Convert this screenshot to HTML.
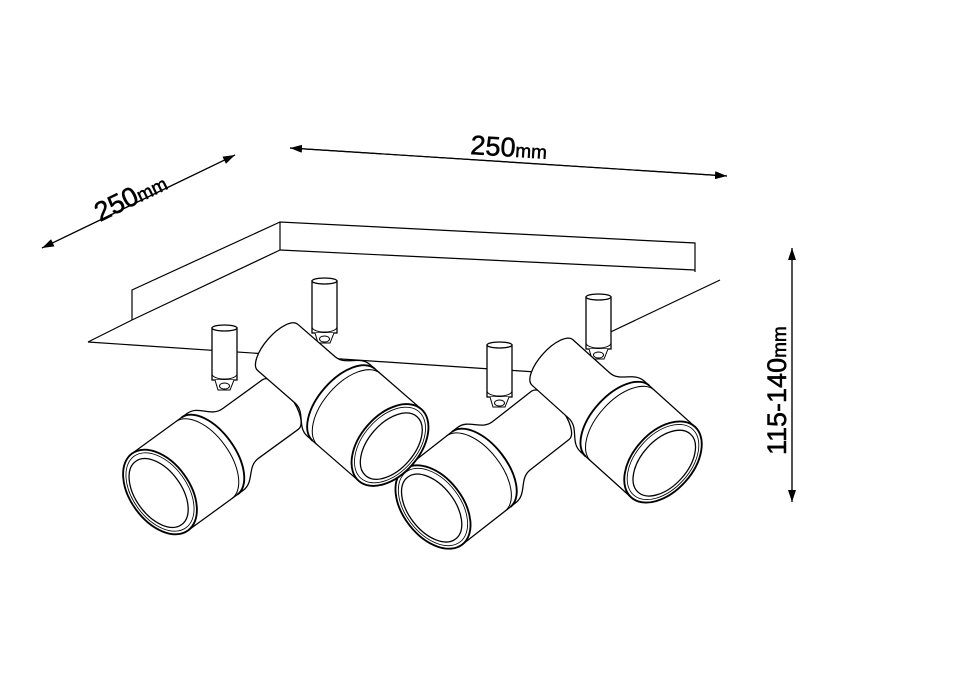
<!DOCTYPE html>
<html><head><meta charset="utf-8"><style>
html,body{margin:0;padding:0;background:#fff;width:960px;height:678px;overflow:hidden}
svg{display:block}
text{font-family:"Liberation Sans",sans-serif;fill:#000}
</style></head><body>
<svg width="960" height="678" viewBox="0 0 960 678" xmlns="http://www.w3.org/2000/svg">
<defs>
<marker id="ar" viewBox="0 0 12 8" refX="12" refY="4" markerWidth="12" markerHeight="8" orient="auto" markerUnits="userSpaceOnUse">
<path d="M0,0 L12,4 L0,8 Z" fill="#000"/></marker>
<g id="spot">
<path d="M0,-56 L80,-56 C97,-56 100,-36 117,-36 L175,-36 A15,36 0 0 1 175,36 L117,36 C100,36 97,56 80,56 L0,56 Z" fill="#fff" stroke="#000" stroke-width="1.5"/>
<path d="M64,-56 A30,56 0 0 1 64,56" fill="none" stroke="#000" stroke-width="1.2"/>
<path d="M72,-56 A30,56 0 0 1 72,56" fill="none" stroke="#000" stroke-width="2.2"/>
<ellipse cx="0" cy="0" rx="35" ry="56" fill="#fff" stroke="#000" stroke-width="2.2"/>
<ellipse cx="0" cy="0" rx="32" ry="52" fill="none" stroke="#000" stroke-width="1"/>
<ellipse cx="-2" cy="0" rx="27" ry="46" fill="none" stroke="#000" stroke-width="1.5"/>
</g>
<g id="stem">
<rect x="0" y="0" width="25" height="52" fill="#fff" stroke="#000" stroke-width="1.3"/>
<ellipse cx="12.5" cy="0" rx="12.5" ry="3" fill="#fff" stroke="#000" stroke-width="1.3"/>
<path d="M0,46 A12.5,5 0 0 0 25,46" fill="none" stroke="#000"/>
<path d="M3,52 L6,62 L18,62 L22,52" fill="#fff" stroke="#000"/>
<ellipse cx="12.5" cy="58" rx="5" ry="3" fill="#fff" stroke="#000"/>
</g>
</defs>

<g stroke="#000" stroke-width="1.2">
<line x1="290" y1="148" x2="727" y2="176" marker-end="url(#ar)" />
<line x1="727" y1="176" x2="290" y2="148" marker-end="url(#ar)" />
<line x1="42" y1="248" x2="235" y2="155" marker-end="url(#ar)" />
<line x1="235" y1="155" x2="42" y2="248" marker-end="url(#ar)" />
<line x1="792" y1="248" x2="792" y2="502" marker-end="url(#ar)" />
<line x1="792" y1="502" x2="792" y2="248" marker-end="url(#ar)" />
</g>
<text transform="translate(470,154) rotate(3.6)" font-size="27" stroke="#000" stroke-width="0.5">250<tspan font-size="19">mm</tspan></text>
<text transform="translate(100,222) rotate(-26)" font-size="27" stroke="#000" stroke-width="0.5">250<tspan font-size="19">mm</tspan></text>
<text transform="translate(786,455) rotate(-90)" font-size="27" stroke="#000" stroke-width="0.5">115-140<tspan font-size="19">mm</tspan></text>

<g fill="none" stroke="#000" stroke-width="1.2">
<path d="M280,250 L280,222 L695,243 L695,272"/>
<path d="M280,250 L695,270"/>
<path d="M132,320 L132,290 L280,222"/>
<path d="M132,320 L280,250"/>
<path d="M88,342 L132,320"/>
<path d="M88,342 L610,377"/>
<path d="M720,280 L600,337"/>
</g>

<use href="#stem" x="212" y="328"/>
<use href="#stem" x="312" y="281"/>
<use href="#stem" x="487" y="345"/>
<use href="#stem" x="586" y="297"/>

<use href="#spot" transform="translate(160,492) rotate(-36) scale(0.85)"/>
<use href="#spot" transform="translate(433,507) rotate(-38) scale(0.85)"/>
<use href="#spot" transform="translate(390,445) rotate(-139) scale(0.85)"/>
<use href="#spot" transform="translate(663,462) rotate(-138) scale(0.85)"/>
</svg>
</body></html>
